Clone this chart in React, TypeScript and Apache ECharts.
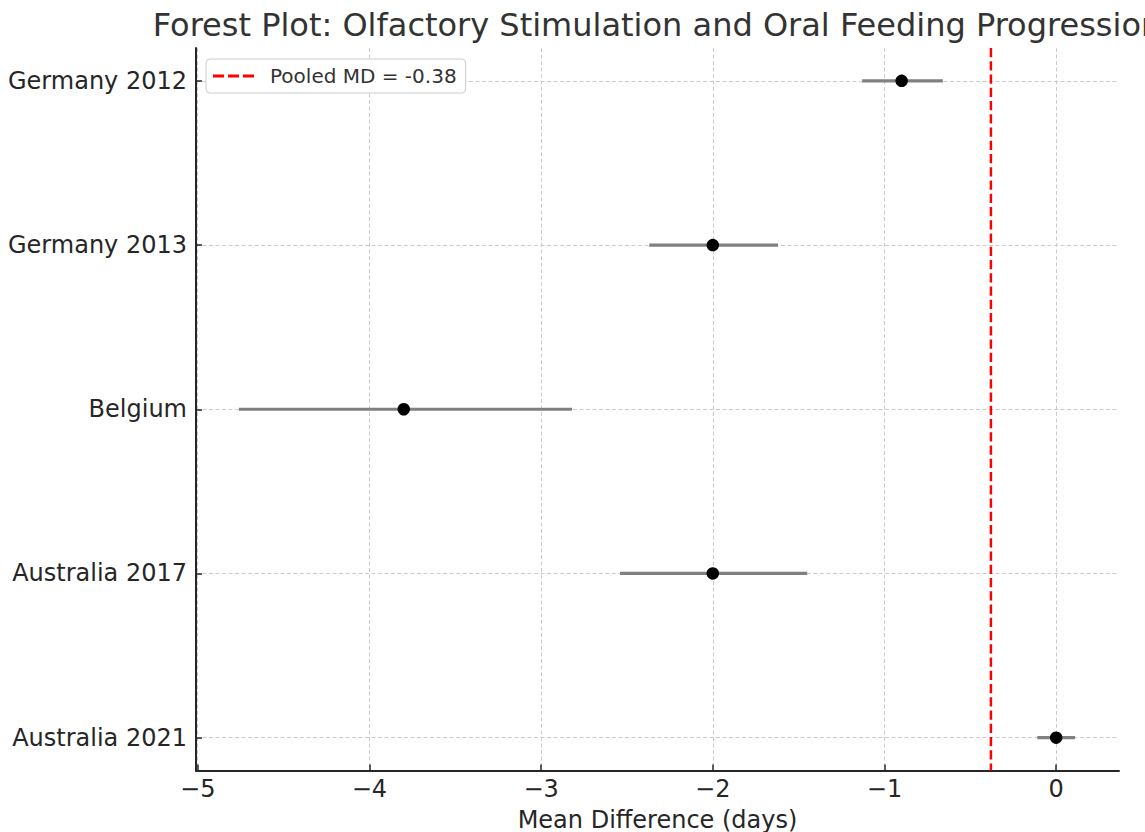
import React, { useEffect, useRef } from "react";
import * as echarts from "echarts";

const studies = ["Germany 2012", "Germany 2013", "Belgium", "Australia 2017", "Australia 2021"];
const meanDiff = [-0.9, -2.0, -3.8, -2.0, 0.0];
const ciLow = [-1.13, -2.37, -4.76, -2.54, -0.11];
const ciHigh = [-0.66, -1.62, -2.82, -1.45, 0.11];
const pooledMD = -0.38;
const xTicks = [-5, -4, -3, -2, -1, 0];
const titleText = "Forest Plot: Olfactory Stimulation and Oral Feeding Progression";
const xLabel = "Mean Difference (days)";
const legendLabel = "Pooled MD = -0.38";

const FONT = "DejaVu Sans";

export default function App() {
  const ref = useRef<HTMLDivElement>(null);
  useEffect(() => {
    if (!ref.current) return;
    const chart = echarts.init(ref.current, null, { renderer: "svg" });
    const yIdx = studies.map((_, i) => i);
    const gridColor = "#cbcbcb";
    const option: any = {
      animation: false,
      backgroundColor: "#ffffff",
      textStyle: { fontFamily: FONT },
      grid: { left: 196, right: 26, top: 48, bottom: 61.5, containLabel: false, outerBoundsMode: "none" },
      graphic: [
        {
          type: "text",
          x: 657,
          y: 25,
          style: {
            text: titleText,
            font: `32px "${FONT}"`,
            fill: "#333333",
            textAlign: "center",
            textVerticalAlign: "middle",
          },
        },
      ],
      legend: {
        left: 206,
        top: 59,
        orient: "vertical",
        backgroundColor: "#ffffff",
        borderColor: "#cccccc",
        borderWidth: 1,
        borderRadius: 4,
        padding: [6, 9, 6, 7],
        itemWidth: 41,
        itemHeight: 3,
        itemGap: 10,
        textStyle: { fontFamily: FONT, fontSize: 20, color: "#333333", padding: [0, 0, 0, 11], lineHeight: 22 },
        data: [{ name: legendLabel, icon: "path://M0,0 L11,0 L11,3 L0,3 Z M15,0 L26,0 L26,3 L15,3 Z M30,0 L41,0 L41,3 L30,3 Z", itemStyle: { color: "#ff0000" } }],
      },
      xAxis: {
        type: "value",
        min: -5.01,
        max: 0.366,
        name: xLabel,
        nameLocation: "middle",
        nameGap: 37,
        nameTextStyle: { fontFamily: FONT, fontSize: 24, color: "#262626", verticalAlign: "top" },
        axisLine: { show: true, onZero: false, lineStyle: { color: "#262626", width: 2 } },
        axisTick: { show: true, inside: true, length: 6, lineStyle: { color: "#262626", width: 1.5 }, customValues: xTicks },
        axisLabel: {
          customValues: xTicks,
          fontFamily: FONT,
          fontSize: 24,
          color: "#262626",
          margin: 6,
          formatter: (v: number) => String(v).replace("-", "\u2212"),
        },
        splitLine: { show: true, lineStyle: { color: gridColor, type: [4, 2.5], width: 1 } },
      },
      yAxis: {
        type: "value",
        inverse: true,
        min: -0.2,
        max: 4.2,
        axisLine: { show: true, onZero: false, lineStyle: { color: "#262626", width: 2 } },
        axisTick: { show: true, inside: true, length: 6, lineStyle: { color: "#262626", width: 1.5 }, customValues: yIdx },
        axisLabel: {
          customValues: yIdx,
          fontFamily: FONT,
          fontSize: 24,
          color: "#262626",
          margin: 9,
          formatter: (v: number) => studies[Math.round(v)] ?? "",
        },
        splitLine: { show: true, lineStyle: { color: gridColor, type: [4, 2.5], width: 1 } },
      },
      series: [
        {
          type: "custom",
          name: "ci",
          silent: true,
          z: 2,
          data: studies.map((_, i) => [ciLow[i], ciHigh[i], i]),
          encode: { x: [0, 1], y: 2 },
          renderItem: (params: any, api: any) => {
            const p1 = api.coord([api.value(0), api.value(2)]);
            const p2 = api.coord([api.value(1), api.value(2)]);
            return {
              type: "line",
              shape: { x1: p1[0], y1: p1[1], x2: p2[0], y2: p2[1] },
              style: { stroke: "#808080", lineWidth: 3.2 },
            };
          },
        },
        {
          type: "scatter",
          name: "md",
          z: 3,
          symbol: "circle",
          symbolSize: 12.5,
          itemStyle: { color: "#000000", opacity: 1 },
          data: studies.map((_, i) => [meanDiff[i], i]),
        },
        {
          type: "line",
          name: legendLabel,
          z: 4,
          symbol: "none",
          lineStyle: { color: "#ff0000", width: 2.5, type: [9.25, 4] },
          itemStyle: { color: "#ff0000" },
          data: [[pooledMD, -0.2], [pooledMD, 4.2]],
        },
      ],
    };
    chart.setOption(option);
    return () => chart.dispose();
  }, []);
  return <div ref={ref} style={{ position: "absolute", left: 0, top: 0, width: 1145, height: 832 }} />;
}
